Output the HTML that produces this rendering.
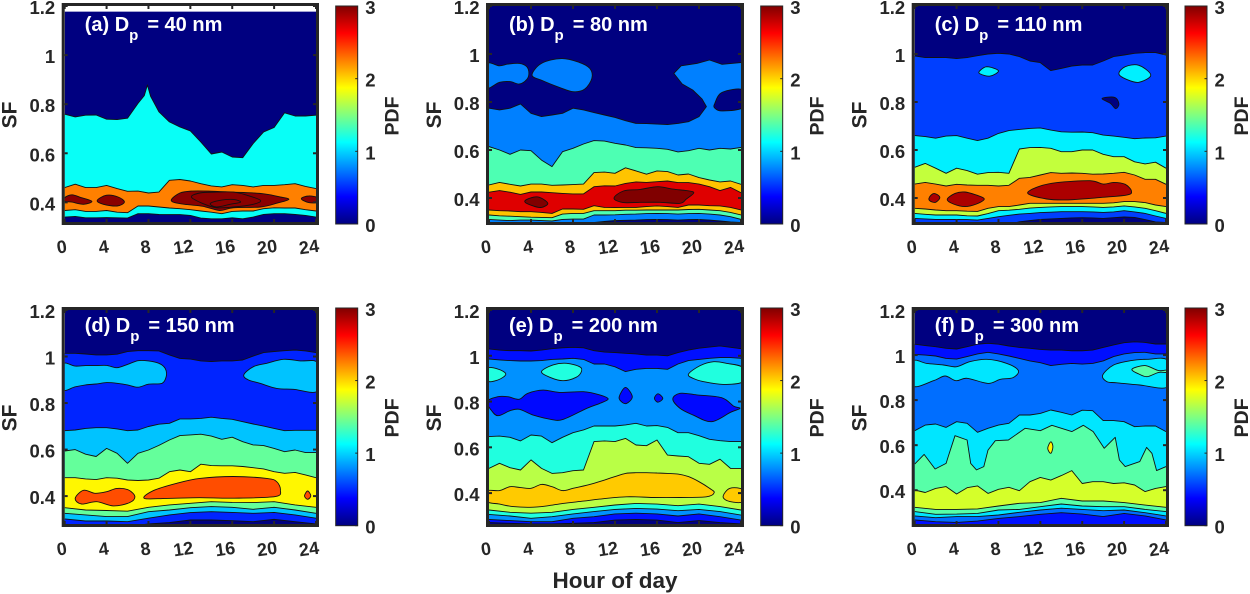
<!DOCTYPE html>
<html lang="en">
<head>
<meta charset="utf-8">
<title>PDF of SF by hour of day</title>
<style>
html,body{margin:0;padding:0;background:#fff;}
svg{display:block;}
text{font-family:"Liberation Sans",Arial,sans-serif;font-weight:bold;fill:#262626;}
</style>
</head>
<body>
<svg id="figure" xmlns="http://www.w3.org/2000/svg" width="1250" height="594" viewBox="0 0 1250 594">
<text x="615" y="588" font-size="22.5" text-anchor="middle">Hour of day</text>
</svg>
<script>
// ---- axis ticks ----
const xTickValues=[0,4,8,12,16,20,24];
const yTickValues=[0.4,0.6,0.8,1,1.2];
const yTickLabels=["0.4","0.6","0.8","1","1.2"];
const cbarTickValues=[0,1,2,3];

// ---- panel a (40 nm) ----
const aTopH=[0,1,2,3,4,5,6,7,7.6,7.9,8.2,9,10,11,12,13,14,15,16,17,18,19,20,21,22,23,24];
const aTopS=[.759,.748,.755,.756,.739,.737,.743,.803,.835,.878,.832,.769,.728,.707,.691,.646,.597,.605,.585,.582,.64,.687,.705,.765,.752,.752,.755];
const aOrangeS=[.46,.474,.46,.46,.469,.456,.445,.446,.438,.442,.49,.493,.487,.476,.467,.463,.472,.469,.463,.469,.469,.472,.476,.465,.456];
const aCyanLowS=[.367,.37,.363,.363,.367,.36,.358,.385,.385,.381,.377,.374,.37,.365,.36,.354,.363,.365,.365,.374,.378,.377,.377,.37,.365];
const aNavyLowS=[.34,.343,.337,.337,.338,.337,.336,.354,.354,.351,.35,.35,.347,.336,.333,.333,.337,.333,.34,.351,.354,.354,.351,.347,.34];
const aIsle1H=[0,.7,1.6,2.6,1.8,.7,0];
const aIsle1S=[.419,.431,.419,.404,.392,.401,.405];
const aIsle2H=[3.1,4,5.1,5.7,5,3.7];
const aIsle2S=[.408,.429,.422,.401,.385,.392];
const aIsle3H=[10.2,11,12.1,13.7,15.8,17.1,19,20.6,21.4,20.3,18.7,16.1,14.8,13.2,11.7,10.5];
const aIsle3S=[.412,.438,.446,.446,.442,.44,.435,.422,.412,.397,.381,.378,.367,.384,.391,.399];
const aIsle4H=[22.6,23.3,24.2,24.2,23.3];
const aIsle4S=[.415,.426,.419,.401,.399];
const aIsle5H=[12.1,12.9,14.5,16.1,17.4,18.7,18,16.1,14.5,13.2];
const aIsle5S=[.422,.438,.442,.442,.429,.408,.392,.381,.378,.395];
const aIsle6H=[13.9,14.8,16.1,16.8,15.8,14.5];
const aIsle6S=[.395,.408,.412,.401,.392,.381];

// ---- panel b (80 nm) ----
const bBlueH=[0,1,2,3,4,5,6,7,8,9,10,11,12,13,14,15,16,17,18,19,20,20.7,20.3,19.4,18.4,17.6,18.3,19.8,21,22.2,24];
const bBlueS=[.774,.767,.774,.792,.753,.739,.746,.753,.774,.767,.756,.746,.736,.722,.711,.71,.708,.706,.711,.718,.739,.781,.812,.85,.875,.919,.951,.961,.975,.957,.964];
const bNavyIsleH=[21.5,22.2,24.2,24.2,22.2,21.5];
const bNavyIsleS=[.794,.84,.85,.778,.763,.775];
const bBlobLH=[-.2,1,1.8,2.9,3.6,3.8,3.6,2.9,2,1,-.2];
const bBlobLS=[.958,.951,.958,.961,.947,.919,.894,.875,.885,.882,.861];
const bBlobMH=[4.1,5,6.9,8.6,9.6,9.8,9.1,8,6.7,5.1];
const bBlobMS=[.912,.961,.981,.965,.94,.899,.853,.843,.861,.889];
const bGreenS=[.614,.6,.582,.6,.597,.558,.531,.593,.607,.625,.639,.637,.628,.621,.61,.609,.607,.603,.592,.597,.607,.6,.607,.604,.611];
const bOrangeS=[.454,.465,.457,.45,.458,.458,.453,.454,.456,.458,.506,.508,.503,.526,.513,.499,.513,.51,.496,.5,.485,.475,.467,.471,.457];
const bRedS=[.424,.431,.424,.415,.425,.425,.422,.419,.417,.417,.447,.451,.45,.461,.467,.465,.468,.471,.464,.464,.458,.447,.431,.444,.422];
const bOrangeLowS=[.35,.347,.346,.343,.343,.34,.336,.354,.354,.353,.368,.361,.36,.361,.361,.364,.367,.364,.361,.371,.371,.368,.367,.361,.35];
const bGreenLowS=[.329,.326,.324,.322,.32,.319,.318,.333,.336,.336,.347,.347,.347,.349,.349,.35,.35,.35,.35,.352,.353,.35,.347,.34,.329];
const bBlueLowS=[.311,.308,.306,.308,.308,.306,.304,.311,.312,.312,.329,.329,.33,.332,.333,.335,.336,.335,.333,.335,.336,.333,.329,.322,.311];
const bNavyLowS=[.298,.298,.298,.298,.298,.298,.298,.298,.298,.298,.298,.302,.306,.307,.308,.31,.311,.31,.308,.31,.311,.308,.304,.3,.298];
const bIsle1H=[3.4,4,4.8,5.6,5,4.2];
const bIsle1S=[.385,.401,.403,.378,.361,.367];
const bIsle2H=[11.9,12.8,14.4,16.1,17.5,18.8,19.5,18.8,18.2,16.3,14.4,12.8];
const bIsle2S=[.399,.429,.436,.447,.437,.431,.422,.396,.378,.382,.382,.381];

// ---- panel c (110 nm) ----
const cBlueS=[.992,.985,.986,.985,.981,.985,.993,1.0,1.003,1.0,.989,.971,.964,.931,.94,.95,.954,.954,.971,.989,.996,1.003,1.006,1.006,.996];
const cCyanS=[.66,.656,.649,.658,.66,.649,.639,.649,.669,.681,.686,.69,.692,.683,.676,.674,.675,.672,.662,.658,.653,.647,.65,.651,.658];
const cYellowS=[.528,.544,.524,.503,.524,.514,.499,.506,.507,.503,.604,.61,.611,.607,.593,.593,.6,.6,.582,.572,.572,.551,.542,.549,.524];
const cOrangeS=[.458,.465,.458,.45,.457,.454,.453,.453,.45,.453,.482,.486,.496,.506,.503,.504,.503,.499,.5,.503,.507,.496,.478,.478,.457];
const cYellowLowS=[.357,.354,.35,.347,.347,.345,.344,.357,.364,.364,.371,.378,.378,.378,.378,.378,.378,.378,.378,.38,.385,.385,.381,.371,.364];
const cCyanLowS=[.336,.332,.329,.329,.329,.326,.325,.335,.347,.349,.353,.358,.361,.363,.364,.364,.364,.363,.361,.363,.367,.363,.357,.347,.336];
const cBlueLowS=[.315,.313,.311,.311,.311,.31,.308,.315,.322,.328,.333,.336,.339,.341,.343,.343,.343,.342,.34,.342,.347,.342,.336,.325,.315];
const cNavyLowS=[.29,.29,.29,.29,.29,.29,.29,.29,.29,.29,.301,.306,.311,.313,.315,.317,.318,.317,.315,.318,.321,.319,.31,.3,.298];
const cRed1H=[1.4,1.85,2.4,2,1.45];
const cRed1S=[.403,.419,.403,.382,.388];
const cRed2H=[3.1,3.85,4.8,5.9,6.65,5.9,4.8,3.7];
const cRed2S=[.394,.419,.425,.412,.396,.375,.364,.375];
const cRed3H=[10.8,11.8,13.6,16.75,18,19,20.1,20.7,20.25,17.4,14.5,12.6];
const cRed3S=[.419,.447,.464,.472,.458,.465,.457,.429,.412,.401,.392,.396];
const cCy1H=[6.2,6.9,8,7.2,6.25];
const cCy1S=[.929,.947,.93,.908,.917];
const cCy2H=[19.5,20.1,21.4,22.55,21.4,20.25];
const cCy2S=[.917,.947,.953,.912,.882,.894];
const cNavyIsleH=[17.9,19.1,19.5,19.2,18.7];
const cNavyIsleS=[.815,.819,.792,.772,.794];

// ---- panel d (150 nm) ----
const dBlueS=[1.014,1.014,1.011,1.007,1.007,1.01,1.021,1.025,1.025,1.024,1.007,.992,.989,.981,.978,.981,.981,.985,1.002,1.017,1.021,1.025,1.028,1.024,1.017];
const dBlobLH=[-.2,1,2,3,4,5,6,7,8,9,9.6,9.7,9.3,8,7,6,5,4,3,2,1,-.2];
const dBlobLS=[.966,.959,.961,.961,.962,.952,.966,.982,.981,.971,.949,.916,.885,.881,.868,.878,.885,.888,.882,.878,.87,.859];
const dBlobRH=[17.1,18,19.3,20.9,22.5,24.2,24.2,21.85,20.25,18.65,17.55];
const dBlobRS=[.921,.956,.971,.988,.981,.971,.853,.859,.863,.885,.899];
const dLightS=[.681,.684,.691,.694,.694,.689,.681,.684,.699,.709,.713,.732,.732,.734,.739,.734,.73,.72,.71,.701,.691,.681,.683,.683,.683];
const dGreenS=[.594,.6,.58,.57,.605,.584,.541,.584,.598,.618,.641,.66,.663,.666,.658,.644,.653,.634,.62,.617,.605,.591,.598,.587,.587];
const dYellowS=[.479,.479,.474,.471,.479,.477,.469,.467,.469,.477,.505,.512,.505,.537,.531,.53,.53,.527,.522,.517,.505,.498,.502,.491,.479];
const dGreenLowS=[.35,.34,.338,.335,.352,.362,.369,.376,.373,.372,.376,.362,.352];
const dLightLowS=[.326,.319,.312,.312,.333,.34,.35,.355,.352,.343,.352,.34,.326];
const dBlueLowS=[.302,.293,.293,.29,.305,.319,.329,.333,.33,.326,.33,.319,.305];
const dNavyLowS=[.27,.27,.27,.27,.28,.286,.297,.297,.294,.29,.3,.29,.28];
const dOr1H=[1,1.8,2.9,4,5,6.1,6.7,6.2,4.65,3.05,1.6];
const dOr1S=[.39,.425,.412,.419,.433,.426,.398,.372,.358,.376,.366];
const dOr2H=[7.6,8.45,10.7,12.9,16.1,19.3,20.25,20.6,20.1,16.1,12.9,9.75];
const dOr2S=[.39,.423,.455,.476,.484,.476,.462,.426,.398,.391,.393,.39];
const dOr3H=[22.9,23.2,23.5,23.2];
const dOr3S=[.401,.422,.401,.386];

// ---- panel e (200 nm) ----
const eBlueS=[1.03,1.025,1.022,1.022,1.021,1.025,1.031,1.035,1.037,1.035,1.022,1.016,1.014,1.011,1.008,1.003,1.003,1.0,1.014,1.025,1.033,1.038,1.043,1.037,1.031];
const eMidS=[.986,.982,.979,.977,.977,.979,.984,.986,.989,.984,.964,.964,.952,.931,.941,.945,.945,.941,.964,.979,.984,.989,.992,.992,.989];
const eAq1H=[-.2,.85,1.6,.85,-.2];
const eAq1S=[.945,.942,.92,.894,.891];
const eAq2H=[5,6.1,7.4,8.65,8.8,8.3,7.05,5.8];
const eAq2S=[.931,.96,.967,.952,.931,.906,.891,.906];
const eAq3H=[19,20.1,21.4,22.6,24.2,24.2,22.3,20.4,19.45];
const eAq3S=[.92,.957,.974,.967,.948,.887,.875,.887,.901];
const eLow1H=[-.2,.85,1.8,2.86,3.7,5.15,6.7,9,10.55,11.35,10.55,9.3,7.05,5.9,4.2,2.9,2,.85,.2];
const eLow1S=[.8,.821,.821,.81,.836,.85,.84,.843,.829,.811,.792,.77,.722,.722,.741,.766,.76,.738,.763];
const eLow2H=[12.4,13,13.65,13.1,12.6];
const eLow2S=[.821,.862,.821,.792,.8];
const eLow3H=[15.75,16.1,16.55,16.1];
const eLow3S=[.814,.834,.814,.797];
const eLow4H=[17.5,18.2,19.8,22.15,23.3,23.9,23,21.2,19.45,18.2];
const eLow4S=[.811,.836,.829,.817,.78,.77,.753,.712,.741,.77];
const eAquaS=[.647,.649,.644,.628,.654,.649,.62,.644,.664,.676,.693,.693,.693,.698,.705,.693,.695,.687,.664,.664,.651,.635,.629,.625,.625];
const eLimeS=[.508,.53,.511,.501,.545,.508,.486,.489,.498,.501,.625,.628,.625,.639,.61,.607,.632,.566,.562,.559,.53,.526,.548,.508,.508];
const eOr1H=[-.2,1,2,3,4,5,6,7,8,9,10,11,12,13,14,15,16,17,18,19,20,21,21.45,20.7,18.2,15.6,13.1,10.55,9,7.05,5.5,3.9,2.3,1,-.2];
const eOr1S=[.409,.411,.428,.424,.421,.438,.428,.411,.421,.431,.443,.457,.472,.486,.489,.489,.488,.486,.483,.472,.45,.421,.402,.384,.381,.381,.384,.374,.365,.355,.344,.338,.341,.352,.363];
const eOr2H=[22.3,22.95,24.2,24.2,22.95];
const eOr2S=[.384,.421,.414,.363,.363];
const eAquaLowS=[.326,.316,.312,.316,.329,.338,.348,.355,.352,.345,.352,.341,.326];
const eMidLowS=[.307,.3,.29,.297,.309,.319,.329,.333,.33,.323,.329,.319,.304];
const eBlueLowS=[.285,.28,.275,.275,.29,.297,.309,.312,.309,.3,.309,.297,.282];
const eNavyLowS=[.271,.268,.265,.265,.268,.271,.282,.285,.282,.271,.28,.271,.265];

// ---- panel f (300 nm) ----
const fBlueS=[1.048,1.042,1.037,1.03,1.027,1.037,1.048,1.052,1.048,1.04,1.034,1.03,1.025,1.022,1.022,1.019,1.019,1.022,1.034,1.045,1.055,1.059,1.056,1.049,1.049];
const fMidS=[1.003,1.0,.996,.985,.982,.993,1.005,1.012,1.005,.996,.985,.974,.966,.953,.959,.963,.96,.963,.974,.993,1.005,1.011,1.012,1.005,1.005];
const fCy1H=[-.2,1.15,2.75,3.95,5.3,6.9,8.8,9.9,9.4,8.15,7,5,3.95,2.9,1.8,-.2];
const fCy1S=[.971,.963,.956,.948,.971,.981,.963,.931,.9,.892,.874,.897,.886,.907,.886,.863];
const fCy2H=[17.95,19,20.6,22.2,24.2,24.2,21.5,19.3,18.35];
const fCy2S=[.911,.956,.975,.981,.975,.86,.867,.877,.882];
const fGr1H=[20.75,22,23.3,24.2,24.2,23.3,22.2,21.4];
const fGr1S=[.937,.953,.931,.934,.922,.923,.904,.916];
const fCyanS=[.664,.689,.694,.679,.704,.697,.657,.675,.689,.697,.734,.734,.741,.756,.746,.734,.755,.753,.709,.709,.704,.682,.685,.685,.66];
const fGreenH=[0,.9,1.95,3,3.2,3.85,5,5.35,5.9,6.6,7,7.7,8.95,10.55,12,13.1,15,16.1,17.05,18.1,19.15,19.55,20.1,21.5,22.15,22.65,23.1,24];
const fGreenS=[.516,.559,.494,.519,.549,.642,.623,.519,.49,.505,.578,.62,.623,.675,.664,.688,.66,.688,.66,.586,.635,.534,.505,.527,.59,.564,.487,.505];
const fLimeS=[.401,.39,.408,.416,.383,.411,.419,.386,.404,.413,.398,.438,.457,.445,.465,.487,.43,.438,.438,.43,.433,.423,.394,.408,.416];
const fYel1H=[12.7,13,13.2,13];
const fYel1S=[.586,.615,.593,.564];
const fGreenLowS=[.324,.315,.315,.317,.33,.342,.345,.364,.352,.352,.345,.334,.324];
const fCyanLowS=[.305,.293,.294,.297,.312,.315,.327,.339,.33,.327,.327,.315,.305];
const fMidLowS=[.286,.278,.283,.283,.29,.302,.312,.32,.315,.309,.312,.3,.286];
const fBlueLowS=[.268,.26,.257,.263,.275,.283,.293,.3,.294,.283,.297,.286,.268];

// band: fills everything below a contour; isle: closed contour region
function band(lvl,s,h){return {kind:'band',lvl:lvl,s:s,h:h||s.map(function(_,i){return i*24/(s.length-1);})};}
function isle(lvl,h,s){return {kind:'isle',lvl:lvl,s:s,h:h};}

const panels=[
 {id:'a',title:'(a) D',tail:'= 40 nm',x0:64.7,x1:316,y0:6,y1:222,sfMin:.32,sfMax:1.2,bgTop:1.177,cx:335.7,cy0:6,cy1:224,bg:0,layers:[
  band(1.15,aTopS,aTopH),band(2.25,aOrangeS),band(1.15,aCyanLowS),band(0,aNavyLowS),
  isle(2.97,aIsle1H,aIsle1S),isle(2.97,aIsle2H,aIsle2S),isle(2.97,aIsle3H,aIsle3S),isle(2.97,aIsle4H,aIsle4S),isle(2.97,aIsle5H,aIsle5S),isle(2.97,aIsle6H,aIsle6S)]},
 {id:'b',title:'(b) D',tail:'= 80 nm',x0:489,x1:741,y0:6,y1:222,sfMin:.3,sfMax:1.2,cx:760.7,cy0:6,cy1:224,bg:0,layers:[
  isle(.75,bBlobLH,bBlobLS),isle(.75,bBlobMH,bBlobMS),band(.75,bBlueS,bBlueH),isle(0,bNavyIsleH,bNavyIsleS),
  band(1.35,bGreenS),band(2.05,bOrangeS),band(2.72,bRedS),band(2.05,bOrangeLowS),band(1.35,bGreenLowS),band(.75,bBlueLowS),band(0,bNavyLowS),
  isle(3,bIsle1H,bIsle1S),isle(3,bIsle2H,bIsle2S)]},
 {id:'c',title:'(c) D',tail:'= 110 nm',x0:914.7,x1:1166,y0:6,y1:222,sfMin:.3,sfMax:1.2,cx:1185,cy0:6,cy1:224,bg:0,layers:[
  band(.56,cBlueS),isle(1.08,cCy1H,cCy1S),isle(1.08,cCy2H,cCy2S),isle(0,cNavyIsleH,cNavyIsleS),
  band(1.08,cCyanS),band(1.7,cYellowS),band(2.25,cOrangeS),band(1.7,cYellowLowS),band(1.08,cCyanLowS),band(.56,cBlueLowS),band(0,cNavyLowS),
  isle(2.87,cRed1H,cRed1S),isle(2.87,cRed2H,cRed2S),isle(2.87,cRed3H,cRed3S)]},
 {id:'d',title:'(d) D',tail:'= 150 nm',x0:64.7,x1:316,y0:310,y1:524,sfMin:.28,sfMax:1.2,cx:335.7,cy0:308,cy1:525.7,bg:0,layers:[
  band(.48,dBlueS),isle(.95,dBlobLH,dBlobLS),isle(.95,dBlobRH,dBlobRS),
  band(.95,dLightS),band(1.42,dGreenS),band(1.9,dYellowS),band(1.42,dGreenLowS),band(.95,dLightLowS),band(.48,dBlueLowS),band(0,dNavyLowS),
  isle(2.4,dOr1H,dOr1S),isle(2.4,dOr2H,dOr2S),isle(2.4,dOr3H,dOr3S)]},
 {id:'e',title:'(e) D',tail:'= 200 nm',x0:489,x1:741,y0:310,y1:524,sfMin:.265,sfMax:1.2,cx:760.7,cy0:308,cy1:525.7,bg:0,layers:[
  band(.42,eBlueS),band(.8,eMidS),isle(1.22,eAq1H,eAq1S),isle(1.22,eAq2H,eAq2S),isle(1.22,eAq3H,eAq3S),
  isle(.4,eLow1H,eLow1S),isle(.4,eLow2H,eLow2S),isle(.4,eLow3H,eLow3S),isle(.4,eLow4H,eLow4S),
  band(1.22,eAquaS),band(1.67,eLimeS),isle(2.03,eOr1H,eOr1S),isle(2.03,eOr2H,eOr2S),
  band(1.22,eAquaLowS),band(.8,eMidLowS),band(.42,eBlueLowS),band(0,eNavyLowS)]},
 {id:'f',title:'(f) D',tail:'= 300 nm',x0:914.7,x1:1166,y0:310,y1:524,sfMin:.25,sfMax:1.2,cx:1185,cy0:308,cy1:525.7,bg:0,layers:[
  band(.42,fBlueS),band(.7,fMidS),isle(1.05,fCy1H,fCy1S),isle(1.05,fCy2H,fCy2S),isle(1.38,fGr1H,fGr1S),
  band(1.05,fCyanS),band(1.38,fGreenS,fGreenH),isle(1.9,fYel1H,fYel1S),band(1.75,fLimeS),band(1.38,fGreenLowS),band(1.05,fCyanLowS),band(.7,fMidLowS),band(.42,fBlueLowS)]}
];

const NS='http://www.w3.org/2000/svg';
const root=document.getElementById('figure');
function mk(parent,tag,attrs,txt){
  const el=document.createElementNS(NS,tag);
  for(const k in attrs){el.setAttribute(k,attrs[k]);}
  if(txt!==undefined){el.textContent=txt;}
  parent.appendChild(el);
  return el;
}
function clip01(v){return Math.max(0,Math.min(1,v));}
function jet(v){
  const f=v/3;
  const r=clip01(Math.min(4*f-1.5,-4*f+4.5));
  const g=clip01(Math.min(4*f-.5,-4*f+3.5));
  const b=clip01(Math.min(4*f+.5,-4*f+2.5));
  return 'rgb('+Math.round(r*255)+','+Math.round(g*255)+','+Math.round(b*255)+')';
}
const defs=mk(root,'defs',{});
const grad=mk(defs,'linearGradient',{id:'jetGradient',x1:0,y1:1,x2:0,y2:0});
for(let i=0;i<=24;i++){mk(grad,'stop',{offset:(i/24),'stop-color':jet(3*i/24)});}

function closedSmooth(pts){
  const n=pts.length;
  let d='M'+pts[0][0].toFixed(1)+','+pts[0][1].toFixed(1);
  for(let i=0;i<n;i++){
    const p0=pts[(i-1+n)%n],p1=pts[i],p2=pts[(i+1)%n],p3=pts[(i+2)%n];
    const c1x=p1[0]+(p2[0]-p0[0])/6,c1y=p1[1]+(p2[1]-p0[1])/6;
    const c2x=p2[0]-(p3[0]-p1[0])/6,c2y=p2[1]-(p3[1]-p1[1])/6;
    d+='C'+c1x.toFixed(1)+','+c1y.toFixed(1)+' '+c2x.toFixed(1)+','+c2y.toFixed(1)+' '+p2[0].toFixed(1)+','+p2[1].toFixed(1);
  }
  return d+'Z';
}

panels.forEach(function(p){
  const xS=function(h){return p.x0+(p.x1-p.x0)*h/24;};
  const yS=function(s){return p.y1-(p.y1-p.y0)*(s-p.sfMin)/(p.sfMax-p.sfMin);};
  const g=mk(root,'g',{});
  
  
  const cp=mk(defs,'clipPath',{id:'clip-'+p.id});
  mk(cp,'rect',{x:p.x0,y:p.y0,width:p.x1-p.x0,height:p.y1-p.y0});
  const plot=mk(g,'g',{'clip-path':'url(#clip-'+p.id+')'});
  
  
  const topSf=p.bgTop||p.sfMax;
  const bgRect=mk(plot,'rect',{x:p.x0,y:yS(topSf),width:p.x1-p.x0,height:p.y1-yS(topSf),fill:jet(p.bg)});
  
  
  p.layers.forEach(function(l){
    const pts=l.h.map(function(h,i){return [xS(h),yS(l.s[i])];});
    if(l.kind==='band'){
      const line=pts.map(function(q){return q[0].toFixed(1)+','+q[1].toFixed(1);}).join(' L');
      const fill=mk(plot,'path',{d:'M'+line+' L'+(p.x1+3)+','+pts[pts.length-1][1].toFixed(1)+' L'+(p.x1+3)+','+p.y1+' L'+(p.x0-3)+','+p.y1+' L'+(p.x0-3)+','+pts[0][1].toFixed(1)+'Z',fill:jet(l.lvl)});
      
      
      const stroke=mk(plot,'path',{d:'M'+line,fill:'none',stroke:'#111','stroke-width':.9,'stroke-linejoin':'round'});
      
      
    }else{
      const shape=mk(plot,'path',{d:closedSmooth(pts),fill:jet(l.lvl),stroke:'#111','stroke-width':.9});
      
      
    }
  });
  // ticks
  xTickValues.forEach(function(t){
    const x=xS(t);
    const tt=mk(g,'line',{x1:x,x2:x,y1:p.y0,y2:p.y0+3,stroke:'#262626','stroke-width':2});
    
    
    const tb=mk(g,'line',{x1:x,x2:x,y1:p.y1,y2:p.y1-3,stroke:'#262626','stroke-width':2});
    
    
    const lab=String(t);
    const lx=x-(lab.length>1?7:3),ly=p.y1+31;
    const tl=mk(g,'text',{x:lx,y:ly,'font-size':18,'text-anchor':'middle',transform:'rotate(-8 '+lx+' '+(ly-6)+')'},lab);
    
    
  });
  yTickValues.forEach(function(t,i){
    const y=yS(t);
    const tl=mk(g,'line',{x1:p.x0,x2:p.x0+3,y1:y,y2:y,stroke:'#262626','stroke-width':2});
    
    
    const tr=mk(g,'line',{x1:p.x1,x2:p.x1-3,y1:y,y2:y,stroke:'#262626','stroke-width':2});
    
    
    const lb=mk(g,'text',{x:p.x0-9.5,y:y+8,'font-size':18.5,'text-anchor':'end'},yTickLabels[i]);
    
    
  });
  const frame=mk(g,'rect',{x:p.x0-1.5,y:p.y0-1.5,width:p.x1-p.x0+3,height:p.y1-p.y0+3,fill:'none',stroke:'#262626','stroke-width':3});
  
  
  // annotation
  const midY=(p.y0+p.y1)/2+1;
  const sfX=p.x0-48;
  const ylab=mk(g,'text',{x:sfX,y:midY,'font-size':21,'text-anchor':'middle',transform:'rotate(-90 '+sfX+' '+midY+')'},'SF');
  
  
  const ann=mk(g,'text',{x:p.x0+20,y:p.y0+(p.id<'d'?25:22),'font-size':20,style:'fill:#fff'},p.title);
  
  
  mk(ann,'tspan',{dy:9,'font-size':15,style:'fill:#fff'},'p');
  mk(ann,'tspan',{dy:-9,dx:9,style:'fill:#fff'},p.tail);
  // colorbar
  const cb=mk(g,'g',{});
  
  
  const cbw=22;
  const bar=mk(cb,'rect',{x:p.cx,y:p.cy0,width:cbw,height:p.cy1-p.cy0,fill:'url(#jetGradient)',stroke:'#262626','stroke-width':1});
  
  
  cbarTickValues.forEach(function(t){
    const y=p.cy1-(p.cy1-p.cy0)*t/3;
    const a=mk(cb,'line',{x1:p.cx+cbw-2.5,x2:p.cx+cbw,y1:y,y2:y,stroke:'#262626','stroke-width':1});
    
    
    const lb=mk(cb,'text',{x:p.cx+cbw+7.5,y:y+8,'font-size':18.5},String(t));
    
    
  });
  const pdfX=p.cx+63,pdfY=(p.cy0+p.cy1)/2+1;
  const pdf=mk(cb,'text',{x:pdfX,y:pdfY,'font-size':19.5,'text-anchor':'middle',transform:'rotate(-90 '+pdfX+' '+pdfY+')'},'PDF');
  
  
});
</script>
</body>
</html>
